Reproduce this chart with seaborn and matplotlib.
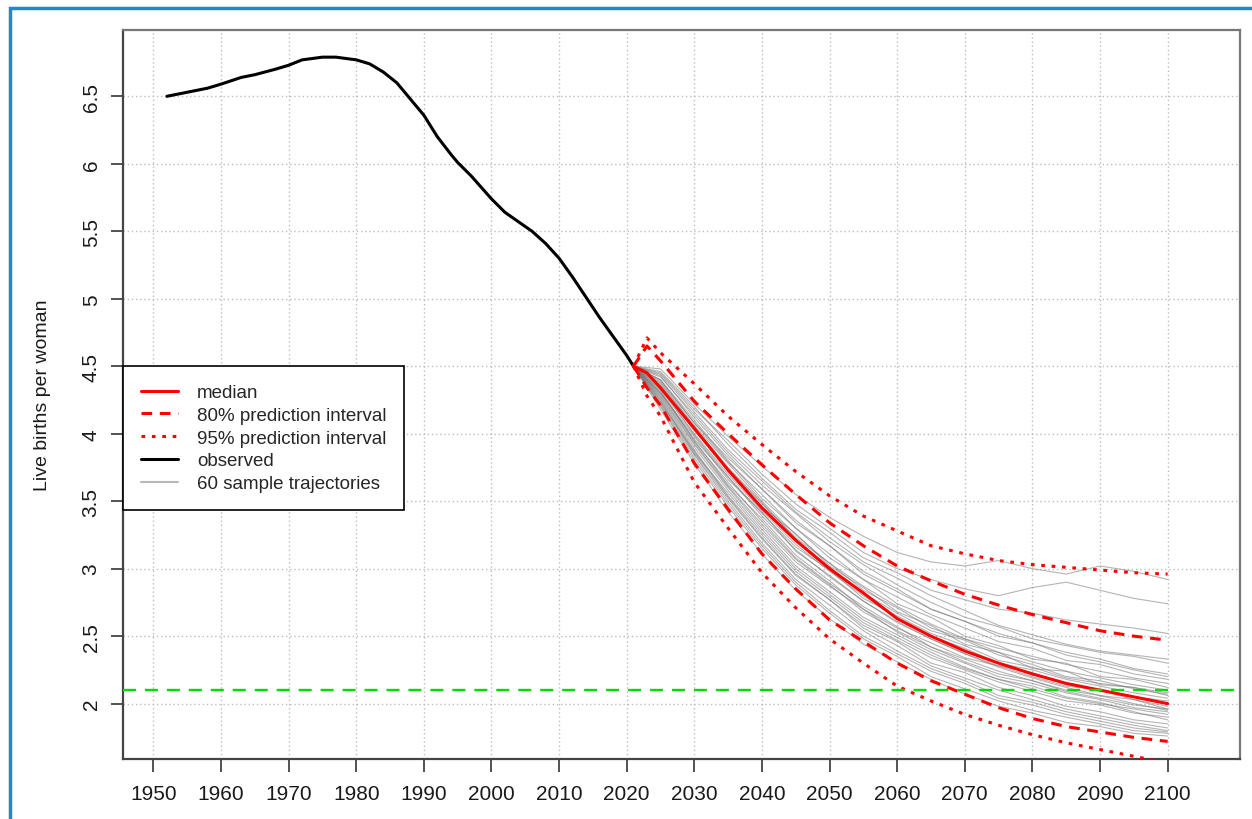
import matplotlib
matplotlib.use('Agg')
import pandas as pd
import matplotlib.pyplot as plt
import seaborn as sns
from matplotlib.lines import Line2D
from matplotlib.patches import Rectangle
from matplotlib.ticker import FuncFormatter

# observed total fertility
obs_years = [1952, 1955, 1958, 1960, 1963, 1965, 1968, 1970, 1972, 1975, 1977,
             1980, 1982, 1984, 1986, 1988, 1990, 1992, 1994, 1995, 1997, 2000,
             2002, 2004, 2006, 2008, 2010, 2012, 2014, 2016, 2018, 2020, 2021]
obs_tfr = [6.50, 6.53, 6.56, 6.59, 6.64, 6.66, 6.70, 6.73, 6.77, 6.79, 6.79,
           6.77, 6.74, 6.68, 6.60, 6.48, 6.36, 6.20, 6.07, 6.01, 5.91, 5.74,
           5.64, 5.57, 5.50, 5.41, 5.30, 5.16, 5.01, 4.86, 4.72, 4.58, 4.50]

# projection quantiles
proj_years = [2021, 2023, 2025, 2030, 2035, 2040, 2045, 2050, 2055, 2060,
              2065, 2070, 2075, 2080, 2085, 2090, 2095, 2100]
median = [4.50, 4.45, 4.34, 4.04, 3.73, 3.45, 3.21, 3.00, 2.82, 2.63,
          2.50, 2.39, 2.30, 2.22, 2.15, 2.10, 2.05, 2.00]
pi80_high = [4.50, 4.65, 4.54, 4.24, 4.00, 3.77, 3.55, 3.34, 3.17, 3.02,
             2.91, 2.81, 2.73, 2.66, 2.60, 2.54, 2.50, 2.47]
pi80_low = [4.50, 4.34, 4.21, 3.78, 3.44, 3.11, 2.85, 2.62, 2.46, 2.30,
            2.17, 2.07, 1.97, 1.89, 1.83, 1.79, 1.75, 1.72]
pi95_high = [4.50, 4.71, 4.60, 4.37, 4.13, 3.92, 3.72, 3.54, 3.39, 3.28,
             3.17, 3.11, 3.06, 3.03, 3.01, 2.99, 2.97, 2.96]
pi95_low = [4.50, 4.28, 4.13, 3.64, 3.30, 2.97, 2.71, 2.48, 2.30, 2.13,
            2.02, 1.92, 1.84, 1.77, 1.71, 1.66, 1.61, 1.56]

# sample trajectories
traj_years = [2021, 2025, 2030, 2035, 2040, 2045, 2050, 2055, 2060,
              2065, 2070, 2075, 2080, 2085, 2090, 2095, 2100]
sample_trajectories = [
    [4.50, 4.40, 4.10, 3.80, 3.52, 3.30, 3.08, 2.92, 2.74, 2.64, 2.50, 2.43, 2.33, 2.30, 2.20, 2.18, 2.12],
    [4.50, 4.30, 3.98, 3.66, 3.42, 3.13, 2.95, 2.76, 2.60, 2.48, 2.37, 2.27, 2.19, 2.12, 2.06, 2.03, 1.96],
    [4.50, 4.45, 4.18, 3.95, 3.70, 3.48, 3.30, 3.12, 3.00, 2.92, 2.85, 2.80, 2.86, 2.90, 2.84, 2.78, 2.74],
    [4.50, 4.24, 3.85, 3.52, 3.22, 2.95, 2.77, 2.58, 2.46, 2.30, 2.23, 2.12, 2.06, 1.98, 1.94, 1.88, 1.85],
    [4.50, 4.36, 4.02, 3.74, 3.46, 3.26, 3.02, 2.86, 2.68, 2.58, 2.44, 2.38, 2.26, 2.24, 2.14, 2.12, 2.06],
    [4.50, 4.28, 3.92, 3.60, 3.31, 3.05, 2.87, 2.70, 2.53, 2.40, 2.30, 2.20, 2.15, 2.08, 2.03, 1.97, 1.94],
    [4.50, 4.48, 4.22, 3.98, 3.76, 3.55, 3.38, 3.24, 3.12, 3.05, 3.02, 3.06, 3.00, 2.96, 3.02, 2.98, 2.92],
    [4.50, 4.20, 3.80, 3.46, 3.15, 2.88, 2.67, 2.48, 2.35, 2.20, 2.11, 2.02, 1.95, 1.90, 1.85, 1.80, 1.78],
    [4.50, 4.38, 4.06, 3.78, 3.50, 3.25, 3.04, 2.87, 2.72, 2.59, 2.48, 2.41, 2.35, 2.29, 2.24, 2.19, 2.15],
    [4.50, 4.32, 3.95, 3.62, 3.37, 3.10, 2.91, 2.70, 2.56, 2.45, 2.34, 2.28, 2.20, 2.13, 2.10, 2.05, 2.02],
    [4.50, 4.42, 4.14, 3.86, 3.62, 3.41, 3.20, 3.03, 2.88, 2.75, 2.64, 2.57, 2.48, 2.43, 2.38, 2.35, 2.30],
    [4.50, 4.26, 3.88, 3.54, 3.25, 2.98, 2.79, 2.60, 2.47, 2.34, 2.25, 2.16, 2.09, 2.02, 1.99, 1.93, 1.90],
    [4.50, 4.34, 4.00, 3.70, 3.43, 3.18, 2.98, 2.80, 2.63, 2.50, 2.41, 2.30, 2.25, 2.18, 2.13, 2.08, 2.04],
    [4.50, 4.22, 3.84, 3.50, 3.19, 2.92, 2.73, 2.54, 2.39, 2.26, 2.17, 2.06, 2.01, 1.94, 1.89, 1.84, 1.80],
    [4.50, 4.44, 4.16, 3.88, 3.65, 3.42, 3.23, 3.05, 2.93, 2.80, 2.69, 2.58, 2.51, 2.44, 2.39, 2.36, 2.33],
    [4.50, 4.30, 3.96, 3.68, 3.41, 3.16, 2.99, 2.78, 2.65, 2.52, 2.43, 2.32, 2.27, 2.19, 2.15, 2.12, 2.08],
    [4.50, 4.18, 3.78, 3.42, 3.11, 2.84, 2.63, 2.44, 2.31, 2.18, 2.07, 1.98, 1.93, 1.86, 1.83, 1.78, 1.76],
    [4.50, 4.37, 4.05, 3.75, 3.49, 3.22, 3.01, 2.82, 2.67, 2.54, 2.47, 2.36, 2.29, 2.20, 2.17, 2.11, 2.07],
    [4.50, 4.40, 4.08, 3.82, 3.59, 3.34, 3.17, 2.98, 2.85, 2.70, 2.61, 2.52, 2.45, 2.38, 2.33, 2.26, 2.22],
    [4.50, 4.27, 3.90, 3.58, 3.29, 3.02, 2.83, 2.64, 2.51, 2.38, 2.27, 2.18, 2.11, 2.04, 2.00, 1.96, 1.92],
    [4.50, 4.33, 3.99, 3.68, 3.39, 3.14, 2.94, 2.76, 2.61, 2.48, 2.37, 2.28, 2.23, 2.14, 2.10, 2.03, 1.98],
    [4.50, 4.46, 4.20, 3.92, 3.67, 3.44, 3.27, 3.08, 2.97, 2.84, 2.77, 2.70, 2.67, 2.62, 2.59, 2.56, 2.52],
    [4.50, 4.25, 3.86, 3.56, 3.27, 3.00, 2.81, 2.62, 2.49, 2.36, 2.26, 2.18, 2.13, 2.05, 2.01, 1.94, 1.88],
    [4.50, 4.35, 4.03, 3.74, 3.48, 3.23, 3.04, 2.84, 2.71, 2.56, 2.48, 2.38, 2.31, 2.24, 2.19, 2.14, 2.10],
    [4.50, 4.21, 3.82, 3.48, 3.17, 2.90, 2.69, 2.50, 2.37, 2.24, 2.15, 2.04, 1.99, 1.92, 1.87, 1.82, 1.79],
    [4.50, 4.39, 4.08, 3.79, 3.55, 3.30, 3.11, 2.92, 2.79, 2.66, 2.56, 2.46, 2.41, 2.32, 2.29, 2.22, 2.18],
    [4.50, 4.31, 3.94, 3.64, 3.35, 3.08, 2.89, 2.72, 2.57, 2.42, 2.33, 2.24, 2.17, 2.10, 2.06, 2.00, 1.95],
    [4.50, 4.29, 3.93, 3.61, 3.33, 3.07, 2.88, 2.68, 2.54, 2.42, 2.31, 2.22, 2.17, 2.09, 2.04, 1.99, 1.96],
    [4.50, 4.43, 4.12, 3.84, 3.59, 3.36, 3.17, 2.96, 2.83, 2.70, 2.61, 2.50, 2.45, 2.36, 2.31, 2.25, 2.20],
    [4.50, 4.23, 3.87, 3.53, 3.23, 2.96, 2.77, 2.56, 2.43, 2.28, 2.19, 2.10, 2.03, 1.96, 1.91, 1.86, 1.82],
]
replacement_level = 2.1

x_ticks = list(range(1950, 2101, 10))
y_ticks = [2, 2.5, 3, 3.5, 4, 4.5, 5, 5.5, 6, 6.5]

legend_labels = ['median', '80% prediction interval', '95% prediction interval',
                 'observed', '60 sample trajectories']

sns.set_style('ticks')
plt.rcParams['font.family'] = ['Liberation Sans', 'DejaVu Sans']

fig = plt.figure(figsize=(12.52, 8.2), dpi=100)
ax = fig.add_axes([0.0982, 0.0732, 0.8922, 0.8888])

dash80 = (0, (3.5, 2.5))
dot95 = (0, (1.2, 2.2))

# sample trajectories in long form
rows = [(i, yr, v) for i, tr in enumerate(sample_trajectories)
        for yr, v in zip(traj_years, tr)]
df_traj = pd.DataFrame(rows, columns=['traj', 'year', 'tfr'])
sns.lineplot(data=df_traj, x='year', y='tfr', units='traj', estimator=None,
             color='#777777', alpha=0.55, lw=0.8, ax=ax, legend=False, zorder=2)

sns.lineplot(x=obs_years, y=obs_tfr, color='black', lw=2.2, ax=ax, zorder=4)
sns.lineplot(x=proj_years, y=pi95_high, color='red', lw=2.2, linestyle=dot95, ax=ax, zorder=4)
sns.lineplot(x=proj_years, y=pi95_low, color='red', lw=2.2, linestyle=dot95, ax=ax, zorder=4)
sns.lineplot(x=proj_years, y=pi80_high, color='red', lw=2.2, linestyle=dash80, ax=ax, zorder=4)
sns.lineplot(x=proj_years, y=pi80_low, color='red', lw=2.2, linestyle=dash80, ax=ax, zorder=4)
sns.lineplot(x=proj_years, y=median, color='red', lw=2.2, ax=ax, zorder=4)

ax.axhline(replacement_level, color='#00dd00', lw=1.7, linestyle=(0, (5.5, 3.8)), zorder=5)

ax.set_xlim(1945.5, 2110.7)
ax.set_ylim(1.59, 6.99)
ax.set_xticks(x_ticks)
ax.set_yticks(y_ticks)
ax.yaxis.set_major_formatter(FuncFormatter(lambda v, p: '%g' % v))
ax.grid(True, color='#bdbdbd', linestyle=(0, (1, 2)), lw=1)
ax.set_axisbelow(True)

ax.tick_params(axis='both', length=9, width=1.3, color='#444444',
               labelsize=15, labelcolor='#1a1a1a')
ax.tick_params(axis='x', pad=9)
ax.tick_params(axis='y', pad=7)
for lbl in ax.get_yticklabels():
    lbl.set_rotation(90)
    lbl.set_va('center')

for side in ['left', 'bottom']:
    ax.spines[side].set_color('#444444')
    ax.spines[side].set_linewidth(1.6)
for side in ['top', 'right']:
    ax.spines[side].set_color('#777777')
    ax.spines[side].set_linewidth(1.6)

ax.set_xlabel('')
ax.set_ylabel('Live births per woman', fontsize=14, labelpad=22, color='#1a1a1a')

handles = [Line2D([], [], color='red', lw=2.2),
           Line2D([], [], color='red', lw=2.2, linestyle=dash80),
           Line2D([], [], color='red', lw=2.2, linestyle=dot95),
           Line2D([], [], color='black', lw=2.2),
           Line2D([], [], color='#b8b8b8', lw=1.5)]
leg = ax.legend(handles, legend_labels, loc='upper left', bbox_to_anchor=(0.0, 0.539),
                fontsize=13.5, frameon=True, fancybox=False, edgecolor='black',
                framealpha=1, borderaxespad=0, handlelength=2.0,
                labelspacing=0.3, borderpad=0.95, handletextpad=1.0)
leg.get_frame().set_linewidth(1.2)
leg.set_zorder(10)

# blue frame around the picture
fig.patches.append(Rectangle((0.008, -0.05), 1.1, 1.039, transform=fig.transFigure,
                             fill=False, ec='#1a8bd0', lw=2.5))

fig.savefig('out.png', dpi=100)
